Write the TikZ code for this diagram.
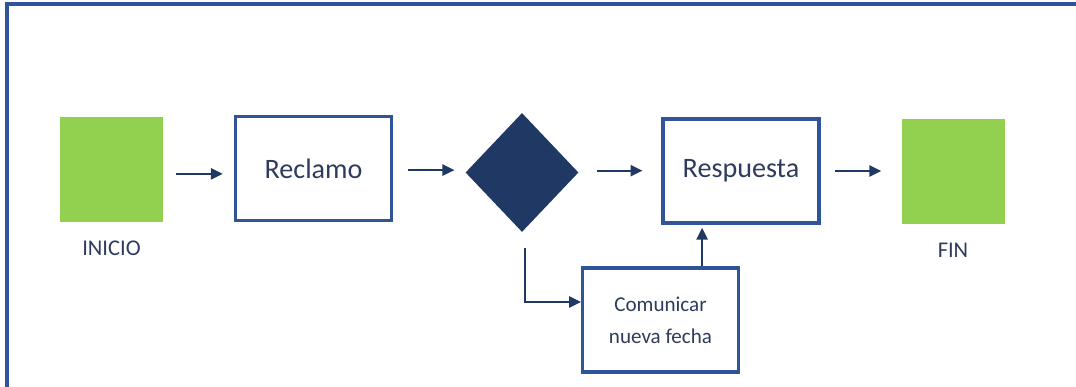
\documentclass[tikz,border=0pt]{standalone}
\usepackage{fontspec}
\setmainfont{Carlito}
\usetikzlibrary{arrows.meta,shapes.geometric,positioning}

\definecolor{navy}{HTML}{1F3864}
\definecolor{boxblue}{HTML}{2F5597}
\definecolor{lime}{HTML}{92D050}
\definecolor{txt}{HTML}{2E3B5C}

\tikzset{
  greenbox/.style={fill=lime, minimum width=2.575cm, minimum height=2.625cm, inner sep=0pt},
  taskbox/.style={draw=boxblue, line width=2.2pt, minimum width=3.9cm, minimum height=2.6cm,
    text=txt, align=center, inner sep=0pt},
  decision/.style={diamond, fill=navy, minimum width=2.825cm, minimum height=2.975cm, inner sep=0pt},
  flow/.style={draw=navy, line width=1.3pt, -{Triangle[length=8.5pt,width=8pt]}},
  tag/.style={text=txt, font=\fontsize{16}{19}\selectfont}
}

\begin{document}
\begin{tikzpicture}

\useasboundingbox (0,0) rectangle (26.9,9.675);

% frame
\draw [boxblue, line width=2.2pt] (0.175,0) |- (26.9,9.575);

\node [greenbox] (inicio) at (2.7875,5.4375) {};
\node [taskbox, font=\fontsize{20}{24}\selectfont] (reclamo) at (7.8375,5.4625) {Reclamo};
\node [decision] (dec) at (13.05,5.3625) {};
\node [taskbox, font=\fontsize{20}{24}\selectfont] (resp) at (18.525,5.4) {Respuesta};
\node [taskbox, font=\fontsize{15}{23}\selectfont] (com) at (16.5125,1.675) {Comunicar\\nueva fecha};
\node [greenbox] (fin) at (23.825,5.3875) {};

\node [tag, below=0.35cm of inicio] (inicio-l) {INICIO};
\node [tag, below=0.35cm of fin] (fin-l) {FIN};

\draw [flow, shorten <=0.33cm, shorten >=0.28cm] ([yshift=-0.11cm]inicio.east) -- ([yshift=-0.11cm]inicio.east -| reclamo.west);
\draw [flow, shorten <=0.375cm, shorten >=0.27cm] ([yshift=-0.04cm]reclamo.east) -- ([yshift=-0.04cm]reclamo.east -| dec.west);
\draw [flow, shorten <=0.45cm, shorten >=0.475cm] ([yshift=0.045cm]dec.east) -- ([yshift=0.045cm]dec.east -| resp.west);
\draw [flow, shorten <=0.35cm, shorten >=0.5cm] (resp.east) -- (resp.east -| fin.west);

\draw [flow, shorten <=0.4cm] ([xshift=0.075cm]dec.south) |- ([yshift=0.45cm]com.west);
\draw [flow, shorten >=0.08cm] ([xshift=1.04cm]com.north) -- ([xshift=1.04cm]com.north |- resp.south);

\end{tikzpicture}
\end{document}
